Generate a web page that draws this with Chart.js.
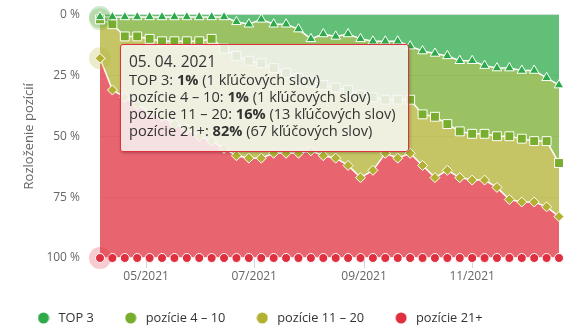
<!DOCTYPE html>
<html>
<head>
<meta charset="utf-8">
<script src="https://cdn.jsdelivr.net/npm/chart.js@4.4.1/dist/chart.umd.min.js"></script>
<style>
    html, body { margin: 0; padding: 0; background: #fff; }
    #wrap { position: relative; width: 577px; height: 335px; }
    #tip {
        position: absolute;
        display: none;
        box-sizing: border-box;
        padding: 6px 12px 12px 8px;
        background: rgba(247, 247, 247, 0.85);
        border: 1px solid #e0303f;
        border-radius: 3px;
        box-shadow: 1px 1px 3px rgba(0, 0, 0, 0.25);
        font: 14.6px "Open Sans", sans-serif;
        color: #333;
        white-space: nowrap;
        pointer-events: none;
    }
    #tip .title { font-size: 15.5px; line-height: 20px; }
    #tip .row { line-height: 17px; }
    #tip b { font-weight: 700; }
</style>
</head>
<body>
<div id="wrap">
    <canvas id="positionsChart" width="577" height="335"></canvas>
    <div id="tip"></div>
</div>
<script>
// weekly snapshots
const dates = [
    "2021-04-05", "2021-04-12", "2021-04-19", "2021-04-26", "2021-05-03",
    "2021-05-10", "2021-05-17", "2021-05-24", "2021-05-31", "2021-06-07",
    "2021-06-14", "2021-06-21", "2021-06-28", "2021-07-05", "2021-07-12",
    "2021-07-19", "2021-07-26", "2021-08-02", "2021-08-09", "2021-08-16",
    "2021-08-23", "2021-08-30", "2021-09-06", "2021-09-13", "2021-09-20",
    "2021-09-27", "2021-10-04", "2021-10-11", "2021-10-18", "2021-10-25",
    "2021-11-01", "2021-11-08", "2021-11-15", "2021-11-22", "2021-11-29",
    "2021-12-06", "2021-12-13", "2021-12-20",
];

// share of keywords (%) in each position band
const top3 = [1, 1, 1, 1, 1, 1, 1, 1, 1, 1, 1, 3, 4, 2, 4, 4, 6, 10, 8, 9, 8, 10, 11, 11, 11, 13, 15, 16, 17, 19, 19, 21, 22, 22, 23, 23, 26, 29];
const pos4to10 = [1, 3, 8, 8, 9, 10, 10, 10, 10, 9, 13, 14, 15, 18, 18, 20, 20, 18, 21, 21, 23, 23, 23, 24, 24, 22, 26, 26, 28, 29, 30, 28, 28, 28, 28, 29, 26, 32];
const pos11to20 = [16, 27, 25, 28, 30, 31, 34, 36, 39, 42, 41, 41, 40, 39, 35, 33, 31, 28, 29, 29, 31, 34, 30, 22, 24, 22, 21, 25, 19, 19, 19, 19, 21, 26, 26, 25, 27, 22];
const pos21plus = [82, 69, 66, 63, 60, 58, 55, 53, 50, 48, 45, 42, 41, 41, 43, 43, 43, 44, 42, 41, 38, 33, 36, 43, 41, 43, 38, 33, 36, 33, 32, 32, 29, 24, 23, 23, 21, 17];
const keywordTotal = 82;

const monthTicks = ["2021-05-01", "2021-07-01", "2021-09-01", "2021-11-01"];
const yTicks = [0, 25, 50, 75, 100];

const series = [
    { label: "TOP 3", data: top3, color: "#2eaa4a", style: "triangle", radius: 5.5 },
    { label: "pozície 4 – 10", data: pos4to10, color: "#78ad2e", style: "rect", radius: 6.3 },
    { label: "pozície 11 – 20", data: pos11to20, color: "#b2b132", style: "rectRot", radius: 5 },
    { label: "pozície 21+", data: pos21plus, color: "#e0303f", style: "circle", radius: 4.5 },
];

const dayOf = (s) => (Date.parse(s) - Date.parse(dates[0])) / 864e5;

function fade(hex, a) {
    const n = parseInt(hex.slice(1), 16);
    return `rgba(${n >> 16}, ${(n >> 8) & 255}, ${n & 255}, ${a})`;
}

function monthLabel(v) {
    const s = monthTicks.find((m) => dayOf(m) === v);
    if (!s) return "";
    const [y, m] = s.split("-");
    return m + "/" + y;
}

function dayLabel(s) {
    const [y, m, d] = s.split("-");
    return d + ". " + m + ". " + y;
}

// round legend symbol
function dot(color) {
    const c = document.createElement("canvas");
    c.width = 12;
    c.height = 12;
    const g = c.getContext("2d");
    g.fillStyle = color;
    g.beginPath();
    g.arc(6, 6, 5.5, 0, Math.PI * 2);
    g.fill();
    return c;
}

// hover halo behind the highlighted markers
const haloPlugin = {
    id: "halo",
    afterDatasetsDraw(chart) {
        const ctx = chart.ctx;
        const active = chart.getActiveElements();
        active.forEach((a) => {
            ctx.save();
            ctx.fillStyle = fade(series[a.datasetIndex].color, 0.25);
            ctx.beginPath();
            ctx.arc(a.element.x, a.element.y, 11, 0, Math.PI * 2);
            ctx.fill();
            ctx.restore();
        });
        active
            .slice()
            .sort((p, q) => q.datasetIndex - p.datasetIndex)
            .forEach((a) => a.element.draw(ctx));
    },
};

function externalTooltip({ chart, tooltip }) {
    const tip = document.getElementById("tip");
    if (tooltip.opacity === 0 || !tooltip.dataPoints || !tooltip.dataPoints.length) {
        tip.style.display = "none";
        return;
    }
    const idx = tooltip.dataPoints[0].dataIndex;
    let html = `<div class="title">${dayLabel(dates[idx])}</div>`;
    tooltip.dataPoints.forEach((p) => {
        const v = p.raw.y;
        const count = Math.round((v * keywordTotal) / 100);
        html += `<div class="row">${p.dataset.label}: <b>${v}%</b> (${count} kľúčových slov)</div>`;
    });
    tip.innerHTML = html;
    tip.style.display = "block";
    tip.style.left = tooltip.caretX + 20 + "px";
    tip.style.top = chart.chartArea.top + 29 + "px";
}

Chart.defaults.font.family = '"Open Sans", sans-serif';

const ctx = document.getElementById("positionsChart").getContext("2d");

const chart = new Chart(ctx, {
    type: "line",
    data: {
        datasets: series.map((s, i) => ({
            label: s.label,
            data: s.data.map((v, j) => ({ x: dayOf(dates[j]), y: v })),
            fill: i === 0 ? "origin" : "-1",
            backgroundColor: fade(s.color, 0.75),
            borderColor: "#fff",
            borderWidth: 1.5,
            tension: 0,
            pointStyle: s.style,
            pointRadius: s.radius,
            pointBackgroundColor: s.color,
            pointBorderColor: "#fff",
            pointBorderWidth: 1,
            pointHoverRadius: s.radius,
            pointHoverBackgroundColor: s.color,
            pointHoverBorderColor: "#fff",
            pointHoverBorderWidth: 1,
            clip: 20,
        })),
    },
    options: {
        responsive: false,
        animation: false,
        events: [],
        layout: {
            autoPadding: false,
            padding: { left: 6.5, right: 18, top: 14.5, bottom: 0.6 },
        },
        interaction: { mode: "index", intersect: false },
        scales: {
            x: {
                type: "linear",
                min: 0,
                max: dayOf(dates[dates.length - 1]),
                afterBuildTicks: (scale) => {
                    scale.ticks = monthTicks.map((m) => ({ value: dayOf(m) }));
                },
                afterFit: (scale) => {
                    scale.height = 25.1;
                },
                ticks: {
                    autoSkip: false,
                    maxRotation: 0,
                    padding: 1,
                    color: "#666",
                    font: { size: 12 },
                    callback: (v) => monthLabel(v),
                },
                grid: {
                    drawOnChartArea: false,
                    tickLength: 10,
                    color: "#ccd6eb",
                    tickColor: "#ccd6eb",
                },
                border: { display: false },
            },
            y: {
                stacked: true,
                reverse: true,
                min: 0,
                max: 100,
                afterBuildTicks: (scale) => {
                    scale.ticks = yTicks.map((v) => ({ value: v }));
                },
                afterFit: (scale) => {
                    scale.width = 93.5;
                },
                ticks: {
                    padding: 0,
                    color: "#666",
                    font: { size: 12 },
                    callback: (v) => v + " %",
                },
                grid: {
                    color: "#e6e6e6",
                    drawTicks: true,
                    tickLength: 20,
                    tickColor: "rgba(0, 0, 0, 0)",
                },
                border: { display: false },
                title: {
                    display: true,
                    text: "Rozloženie pozícií",
                    color: "#666",
                    font: { size: 13 },
                    padding: { top: 15, bottom: 0 },
                },
            },
        },
        plugins: {
            filler: { drawTime: "beforeDatasetsDraw" },
            legend: {
                position: "bottom",
                align: "start",
                labels: {
                    usePointStyle: true,
                    pointStyleWidth: 17,
                    boxHeight: 12,
                    padding: 28.5,
                    color: "#333",
                    font: { size: 12.8 },
                    generateLabels: () =>
                        series.map((s, i) => ({
                            text: s.label,
                            fillStyle: s.color,
                            strokeStyle: s.color,
                            lineWidth: 0,
                            pointStyle: dot(s.color),
                            fontColor: "#333",
                            datasetIndex: i,
                            hidden: false,
                        })),
                },
            },
            tooltip: {
                enabled: false,
                mode: "index",
                intersect: false,
                external: externalTooltip,
            },
        },
    },
    plugins: [haloPlugin],
});

// highlight the first snapshot
const firstPoint = series.map((s, i) => ({ datasetIndex: i, index: 0 }));
chart.setActiveElements(firstPoint);
chart.tooltip.setActiveElements(firstPoint, { x: 0, y: 0 });
chart.update();
</script>
</body>
</html>
